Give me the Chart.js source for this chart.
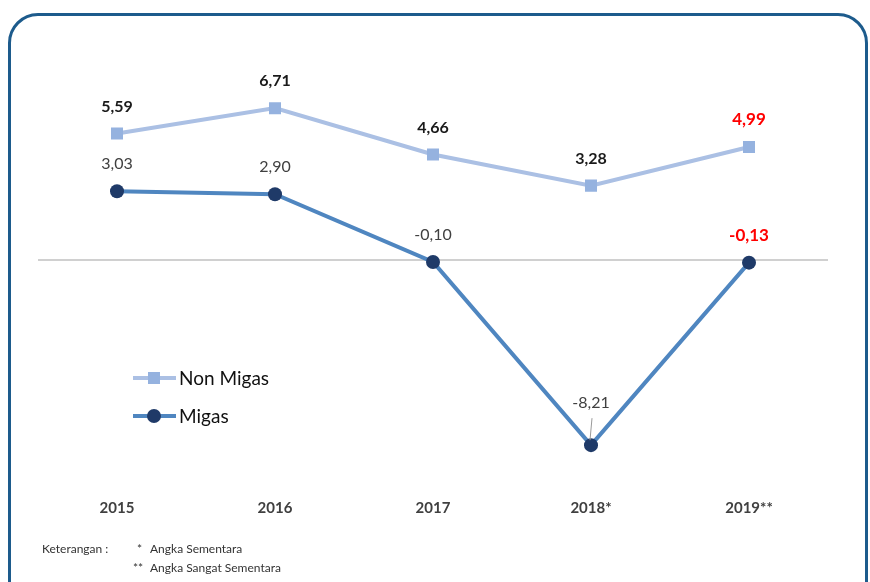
<!DOCTYPE html>
<html>
<head>
<meta charset="utf-8">
<script src="https://cdn.jsdelivr.net/npm/chart.js@4/dist/chart.umd.min.js"></script>
<style>
    html, body { margin: 0; padding: 0; background: #fff; }
    .wrap { position: relative; width: 870px; height: 582px; overflow: hidden; }
    .frame {
        position: absolute; left: 8px; top: 13px; width: 860px; height: 600px;
        border: 3px solid #1d5b8c; border-radius: 30px; box-sizing: border-box;
    }
    canvas { position: absolute; left: 0; top: 0; }
    .note {
        position: absolute; font-family: Lato, 'Open Sans', sans-serif;
        font-size: 12px; color: #333; line-height: 19px; white-space: nowrap;
    }
</style>
</head>
<body>
<div class="wrap">
    <div class="frame"></div>
    <canvas id="chart" width="870" height="582"></canvas>
    <div class="note" style="left:42px; top:539px;">Keterangan :</div>
    <div class="note" style="left:137px; top:539px;">*</div>
    <div class="note" style="left:133px; top:558px;">**</div>
    <div class="note" style="left:150px; top:539px;">Angka Sementara<br>Angka Sangat Sementara</div>
</div>
<script>
// ===== Pertumbuhan ekspor: Non Migas vs Migas =====

const years = ['2015', '2016', '2017', '2018*', '2019**'];
const nonMigas = [5.59, 6.71, 4.66, 3.28, 4.99];
const migas = [3.03, 2.90, -0.10, -8.21, -0.13];

const FONT = 'Lato, "Open Sans", sans-serif';

// 3,03 style formatting
const fmt = v => v.toFixed(2).replace('.', ',');

// Value labels above each point; last year highlighted in red
const valueLabels = {
    id: 'valueLabels',
    afterDatasetsDraw(chart) {
        const ctx = chart.ctx;
        ctx.save();
        ctx.textAlign = 'center';
        ctx.textBaseline = 'middle';
        chart.data.datasets.forEach((ds, di) => {
            const meta = chart.getDatasetMeta(di);
            meta.data.forEach((pt, i) => {
                const last = i === ds.data.length - 1;
                let dy = 27;
                if (ds.label === 'Migas' && ds.data[i] < -5) {
                    dy = 42;
                    // leader line for the deep point
                    ctx.strokeStyle = '#999';
                    ctx.lineWidth = 1;
                    ctx.beginPath();
                    ctx.moveTo(pt.x + 1, pt.y - 27);
                    ctx.lineTo(pt.x - 1, pt.y - 5);
                    ctx.stroke();
                }
                if (last) {
                    ctx.fillStyle = '#ff0000';
                    ctx.font = 'bold 17px ' + FONT;
                } else if (ds.label === 'Non Migas') {
                    ctx.fillStyle = '#1a1a1a';
                    ctx.font = 'bold 16px ' + FONT;
                } else {
                    ctx.fillStyle = '#404040';
                    ctx.font = '16px ' + FONT;
                }
                ctx.fillText(fmt(ds.data[i]), pt.x, pt.y - dy);
            });
        });
        ctx.restore();
    }
};

// Legend drawn inside the plot, lower left
const innerLegend = {
    id: 'innerLegend',
    afterDraw(chart) {
        const ctx = chart.ctx;
        ctx.save();
        chart.data.datasets.forEach((ds, di) => {
            const y = 378 + di * 38;
            ctx.strokeStyle = ds.borderColor;
            ctx.lineWidth = 4;
            ctx.beginPath();
            ctx.moveTo(133, y);
            ctx.lineTo(176, y);
            ctx.stroke();
            ctx.fillStyle = ds.pointBackgroundColor;
            if (ds.pointStyle === 'rect') {
                ctx.fillRect(148, y - 6, 12, 12);
            } else {
                ctx.beginPath();
                ctx.arc(154, y, 7, 0, Math.PI * 2);
                ctx.fill();
            }
            ctx.fillStyle = '#111';
            ctx.font = '19px ' + FONT;
            ctx.textBaseline = 'middle';
            ctx.fillText(ds.label, 179, y + 1);
        });
        ctx.restore();
    }
};

new Chart(document.getElementById('chart'), {
    type: 'line',
    data: {
        labels: years,
        datasets: [
            {
                label: 'Non Migas',
                data: nonMigas,
                borderColor: '#abc0e4',
                borderWidth: 4,
                pointStyle: 'rect',
                pointRadius: 8.5,
                pointBackgroundColor: '#95b2df',
                pointBorderWidth: 0
            },
            {
                label: 'Migas',
                data: migas,
                borderColor: '#4f86c0',
                borderWidth: 4,
                pointStyle: 'circle',
                pointRadius: 7,
                pointBackgroundColor: '#1f3a68',
                pointBorderWidth: 0
            }
        ]
    },
    options: {
        responsive: false,
        animation: false,
        layout: { padding: { left: 38, right: 42, top: 79, bottom: 59 } },
        plugins: {
            legend: { display: false },
            tooltip: { enabled: false }
        },
        scales: {
            x: {
                offset: true,
                afterFit(axis) { axis.height = 60; },
                grid: { display: false },
                border: { display: false },
                ticks: {
                    color: '#404040',
                    font: { family: FONT, size: 15, weight: 'bold' },
                    padding: 28
                }
            },
            y: {
                display: true,
                min: -9,
                max: 8,
                afterFit(axis) { axis.width = 0; },
                ticks: { display: false, stepSize: 1 },
                border: { display: false },
                grid: {
                    color: ctx => ctx.tick && ctx.tick.value === 0 ? '#d0d0d0' : 'transparent',
                    lineWidth: 2,
                    drawTicks: false
                }
            }
        }
    },
    plugins: [valueLabels, innerLegend]
});
</script>
</body>
</html>
